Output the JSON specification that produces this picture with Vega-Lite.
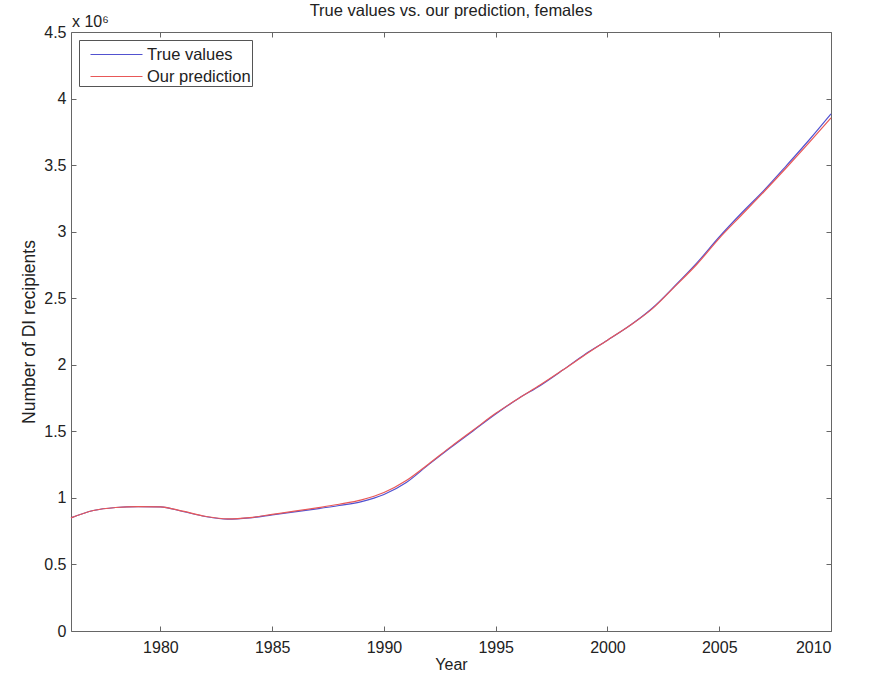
{
  "$schema": "https://vega.github.io/schema/vega-lite/v6.json",
  "autosize": {"type": "none"},
  "width": 760,
  "height": 599,
  "padding": {"left": 71, "top": 32, "right": 38, "bottom": 48},
  "background": "white",
  "title": {
    "text": "True values vs. our prediction, females",
    "fontSize": 16.5,
    "fontWeight": "normal",
    "font": "Liberation Sans",
    "color": "#222",
    "anchor": "middle",
    "offset": 12,
    "dy": 17
  },
  "config": {
    "view": {"stroke": "#666", "strokeWidth": 1},
    "font": "Liberation Sans",
    "axis": {
      "domain": false,
      "grid": false,
      "tickColor": "#666",
      "tickSize": -5,
      "labelFontSize": 16,
      "labelColor": "#222",
      "titleFontSize": 16,
      "titleFontWeight": "normal",
      "titleColor": "#222"
    }
  },
  "data": {
    "values": [
      {"year": 1976, "series": "True values", "value": 850000},
      {"year": 1977, "series": "True values", "value": 905000},
      {"year": 1978, "series": "True values", "value": 928000},
      {"year": 1979, "series": "True values", "value": 935000},
      {"year": 1980, "series": "True values", "value": 932000},
      {"year": 1981, "series": "True values", "value": 898000},
      {"year": 1982, "series": "True values", "value": 860000},
      {"year": 1983, "series": "True values", "value": 840000},
      {"year": 1984, "series": "True values", "value": 850000},
      {"year": 1985, "series": "True values", "value": 872000},
      {"year": 1986, "series": "True values", "value": 895000},
      {"year": 1987, "series": "True values", "value": 918000},
      {"year": 1988, "series": "True values", "value": 943000},
      {"year": 1989, "series": "True values", "value": 972000},
      {"year": 1990, "series": "True values", "value": 1025000},
      {"year": 1991, "series": "True values", "value": 1115000},
      {"year": 1992, "series": "True values", "value": 1250000},
      {"year": 1993, "series": "True values", "value": 1380000},
      {"year": 1994, "series": "True values", "value": 1505000},
      {"year": 1995, "series": "True values", "value": 1630000},
      {"year": 1996, "series": "True values", "value": 1745000},
      {"year": 1997, "series": "True values", "value": 1845000},
      {"year": 1998, "series": "True values", "value": 1960000},
      {"year": 1999, "series": "True values", "value": 2080000},
      {"year": 2000, "series": "True values", "value": 2185000},
      {"year": 2001, "series": "True values", "value": 2295000},
      {"year": 2002, "series": "True values", "value": 2425000},
      {"year": 2003, "series": "True values", "value": 2590000},
      {"year": 2004, "series": "True values", "value": 2765000},
      {"year": 2005, "series": "True values", "value": 2960000},
      {"year": 2006, "series": "True values", "value": 3140000},
      {"year": 2007, "series": "True values", "value": 3310000},
      {"year": 2008, "series": "True values", "value": 3495000},
      {"year": 2009, "series": "True values", "value": 3685000},
      {"year": 2010, "series": "True values", "value": 3885000},
      {"year": 1976, "series": "Our prediction", "value": 850000},
      {"year": 1977, "series": "Our prediction", "value": 905000},
      {"year": 1978, "series": "Our prediction", "value": 928000},
      {"year": 1979, "series": "Our prediction", "value": 935000},
      {"year": 1980, "series": "Our prediction", "value": 932000},
      {"year": 1981, "series": "Our prediction", "value": 900000},
      {"year": 1982, "series": "Our prediction", "value": 862000},
      {"year": 1983, "series": "Our prediction", "value": 842000},
      {"year": 1984, "series": "Our prediction", "value": 852000},
      {"year": 1985, "series": "Our prediction", "value": 876000},
      {"year": 1986, "series": "Our prediction", "value": 900000},
      {"year": 1987, "series": "Our prediction", "value": 925000},
      {"year": 1988, "series": "Our prediction", "value": 952000},
      {"year": 1989, "series": "Our prediction", "value": 985000},
      {"year": 1990, "series": "Our prediction", "value": 1040000},
      {"year": 1991, "series": "Our prediction", "value": 1130000},
      {"year": 1992, "series": "Our prediction", "value": 1255000},
      {"year": 1993, "series": "Our prediction", "value": 1385000},
      {"year": 1994, "series": "Our prediction", "value": 1510000},
      {"year": 1995, "series": "Our prediction", "value": 1635000},
      {"year": 1996, "series": "Our prediction", "value": 1745000},
      {"year": 1997, "series": "Our prediction", "value": 1850000},
      {"year": 1998, "series": "Our prediction", "value": 1960000},
      {"year": 1999, "series": "Our prediction", "value": 2075000},
      {"year": 2000, "series": "Our prediction", "value": 2185000},
      {"year": 2001, "series": "Our prediction", "value": 2295000},
      {"year": 2002, "series": "Our prediction", "value": 2420000},
      {"year": 2003, "series": "Our prediction", "value": 2585000},
      {"year": 2004, "series": "Our prediction", "value": 2755000},
      {"year": 2005, "series": "Our prediction", "value": 2950000},
      {"year": 2006, "series": "Our prediction", "value": 3125000},
      {"year": 2007, "series": "Our prediction", "value": 3300000},
      {"year": 2008, "series": "Our prediction", "value": 3480000},
      {"year": 2009, "series": "Our prediction", "value": 3665000},
      {"year": 2010, "series": "Our prediction", "value": 3855000}
    ]
  },
  "layer": [
    {
      "mark": {"type": "line", "strokeWidth": 1.2, "interpolate": "monotone"},
      "encoding": {
        "x": {
          "field": "year",
          "type": "quantitative",
          "scale": {"domain": [1976, 2010], "nice": false, "zero": false},
          "axis": {
            "title": "Year",
            "values": [1980, 1985, 1990, 1995, 2000, 2005, 2010],
            "format": "d",
            "labelPadding": 13,
            "titlePadding": 1
          }
        },
        "y": {
          "field": "value",
          "type": "quantitative",
          "scale": {"domain": [0, 4500000], "nice": false},
          "axis": {
            "title": "Number of DI recipients",
            "titleFontSize": 17.5,
            "values": [0, 500000, 1000000, 1500000, 2000000, 2500000, 3000000, 3500000, 4000000, 4500000],
            "labelExpr": "format(datum.value / 1000000, '')",
            "labelPadding": 10,
            "titlePadding": 5
          }
        },
        "color": {
          "field": "series",
          "type": "nominal",
          "scale": {"domain": ["True values", "Our prediction"], "range": ["#5252d0", "#e85858"]},
          "legend": {
            "title": null,
            "orient": "top-left",
            "offset": 8,
            "strokeColor": "#555",
            "fillColor": "white",
            "padding": 1,
            "symbolType": "M-2,0H2",
            "symbolStrokeWidth": 1,
            "symbolSize": 676,
            "symbolOffset": 23,
            "labelOffset": 17,
            "labelFontSize": 16.5,
            "labelColor": "#222",
            "rowPadding": -5
          }
        }
      }
    },
    {
      "data": {"values": [{"label": "x 10⁶"}]},
      "mark": {"type": "text", "align": "left", "baseline": "bottom", "fontSize": 16, "color": "#222", "dy": -2, "dx": 1},
      "encoding": {
        "x": {
          "datum": 1976,
          "type": "quantitative",
          "axis": {"orient": "top", "title": null, "labels": false, "values": [1980, 1985, 1990, 1995, 2000, 2005, 2010]}
        },
        "y": {
          "datum": 4500000,
          "type": "quantitative",
          "axis": {"orient": "right", "title": null, "labels": false, "values": [0, 500000, 1000000, 1500000, 2000000, 2500000, 3000000, 3500000, 4000000, 4500000]}
        },
        "text": {"field": "label"}
      }
    }
  ],
  "resolve": {"axis": {"x": "independent", "y": "independent"}}
}
